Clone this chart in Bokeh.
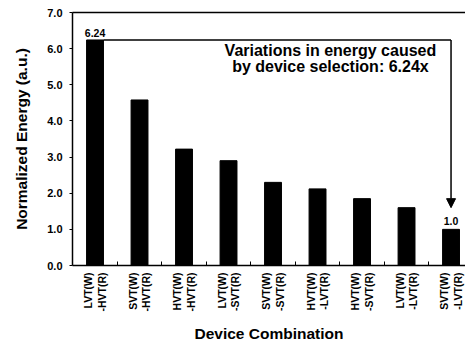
import math
from bokeh.plotting import figure
from bokeh.models import (ColumnDataSource, Range1d, FixedTicker, LinearAxis,
                          Label, Arrow, NormalHead)
from bokeh.embed import file_html
from bokeh.resources import INLINE

categories = ["LVT(W)\n-HVT(R)", "SVT(W)\n-HVT(R)", "HVT(W)\n-HVT(R)",
              "LVT(W)\n-SVT(R)", "SVT(W)\n-SVT(R)", "HVT(W)\n-LVT(R)",
              "HVT(W)\n-SVT(R)", "LVT(W)\n-LVT(R)", "SVT(W)\n-LVT(R)"]
energy = [6.24, 4.58, 3.22, 2.90, 2.30, 2.12, 1.85, 1.60, 1.00]
y_ticks = [0, 1, 2, 3, 4, 5, 6, 7]
y_tick_labels = ["0.0", "1.0", "2.0", "3.0", "4.0", "5.0", "6.0", "7.0"]

FONT = "Liberation Sans"
xs = list(range(1, len(categories) + 1))
bar_w = 0.38

p = figure(width=465, height=345, output_backend="svg", toolbar_location=None,
           x_range=Range1d(0.494, 9.325), y_range=Range1d(0, 7),
           min_border_left=72, min_border_top=12, min_border_bottom=80,
           min_border_right=0)
p.outline_line_color = None
p.grid.visible = False
p.background_fill_color = "white"
p.border_fill_color = "white"

src = ColumnDataSource(dict(x=xs, top=energy))
p.vbar(x="x", top="top", width=bar_w, source=src, fill_color="black",
       line_color="black")

# x axis
xa = p.xaxis[0]
xa.ticker = FixedTicker(ticks=xs, minor_ticks=[x + 0.5 for x in xs])
xa.major_label_overrides = {x: c for x, c in zip(xs, categories)}
xa.major_label_orientation = math.pi / 2
xa.major_tick_in = 0
xa.major_tick_out = 0
xa.minor_tick_in = 4
xa.minor_tick_out = 0
xa.minor_tick_line_color = "black"
xa.axis_line_color = "black"
xa.axis_line_width = 1.5
xa.major_label_text_font = FONT
xa.major_label_text_font_style = "bold"
xa.major_label_text_font_size = "10.5px"
xa.major_label_text_line_height = 1.15
xa.major_label_text_color = "black"
xa.major_label_standoff = 7
xa.axis_label = "Device Combination"
xa.axis_label_text_font = FONT
xa.axis_label_text_font_style = "bold"
xa.axis_label_text_font_size = "15.5px"
xa.axis_label_text_color = "black"
xa.axis_label_standoff = 10

# y axis
ya = p.yaxis[0]
ya.ticker = FixedTicker(ticks=y_ticks, minor_ticks=[])
ya.major_label_overrides = {t: l for t, l in zip(y_ticks, y_tick_labels)}
ya.major_tick_in = 0
ya.major_tick_out = 3
ya.major_tick_line_color = "black"
ya.axis_line_color = "black"
ya.axis_line_width = 1.5
ya.major_label_text_font = FONT
ya.major_label_text_font_style = "bold"
ya.major_label_text_font_size = "11px"
ya.major_label_text_color = "black"
ya.major_label_standoff = 7
ya.axis_label = "Normalized Energy (a.u.)"
ya.axis_label_text_font = FONT
ya.axis_label_text_font_style = "bold"
ya.axis_label_text_font_size = "15.5px"
ya.axis_label_text_color = "black"
ya.axis_label_standoff = 14

# top border line
top_ax = LinearAxis(ticker=FixedTicker(ticks=[]), major_label_text_font_size="0px",
                    axis_line_width=1.5, axis_line_color="black",
                    major_tick_in=0, major_tick_out=0, minor_tick_in=0, minor_tick_out=0)
p.add_layout(top_ax, "above")

# value labels
p.add_layout(Label(x=xs[0], y=energy[0], text=f"{energy[0]:.2f}", text_align="center",
                   y_offset=3, text_font=FONT, text_font_style="bold",
                   text_font_size="10.5px", text_baseline="bottom", text_color="black"))
p.add_layout(Label(x=xs[-1], y=energy[-1], text=f"{energy[-1]:.1f}", text_align="center",
                   y_offset=4, text_font=FONT, text_font_style="bold",
                   text_font_size="10.5px", text_baseline="bottom", text_color="black"))

# bracket arrow from max to min
p.segment(x0=[xs[0] + bar_w / 2], y0=[energy[0]], x1=[xs[-1]], y1=[energy[0]],
          line_color="black", line_width=1.5)
p.add_layout(Arrow(x_start=xs[-1], y_start=energy[0], x_end=xs[-1],
                   y_end=energy[-1] + 0.6, line_width=1.5, line_color="black",
                   end=NormalHead(size=9, fill_color="black", line_color="black")))

ratio = energy[0] / energy[-1]
p.add_layout(Label(x=6.29, y=6.18,
                   text=f"Variations in energy caused\nby device selection: {ratio:.2f}x",
                   text_align="center", text_baseline="top", text_font=FONT,
                   text_font_style="bold", text_font_size="16px",
                   text_line_height=0.95, text_color="black"))

open("out.html", "w").write(file_html(p, INLINE))
